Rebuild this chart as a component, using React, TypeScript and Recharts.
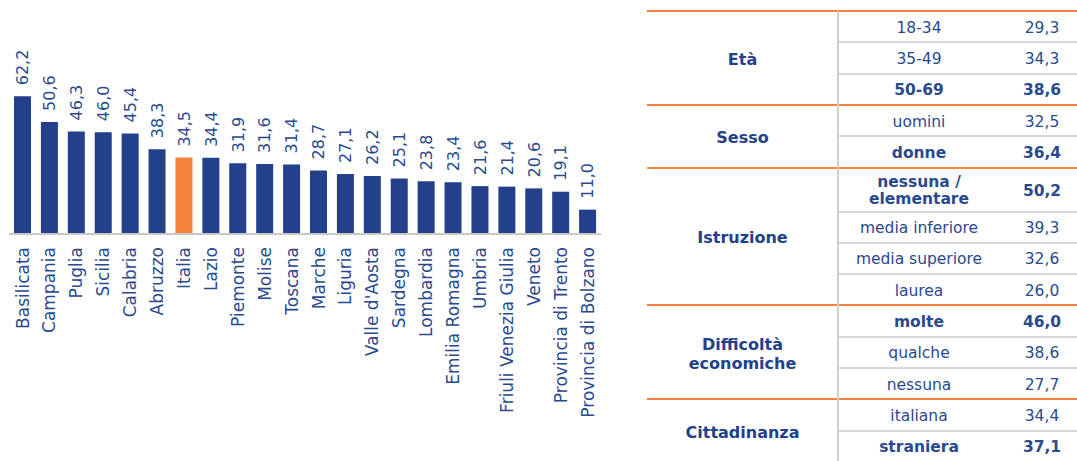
import React from 'react';
import { BarChart, Bar, XAxis, YAxis, Cell, LabelList } from 'recharts';

// regioni (ordinate per valore)
const regions = [
  'Basilicata', 'Campania', 'Puglia', 'Sicilia', 'Calabria', 'Abruzzo', 'Italia',
  'Lazio', 'Piemonte', 'Molise', 'Toscana', 'Marche', 'Liguria', "Valle d'Aosta",
  'Sardegna', 'Lombardia', 'Emilia Romagna', 'Umbria', 'Friuli Venezia Giulia',
  'Veneto', 'Provincia di Trento', 'Provincia di Bolzano',
];
const regionValues = [
  62.2, 50.6, 46.3, 46.0, 45.4, 38.3, 34.5, 34.4, 31.9, 31.6, 31.4, 28.7, 27.1,
  26.2, 25.1, 23.8, 23.4, 21.6, 21.4, 20.6, 19.1, 11.0,
];
const highlight = 'Italia';

// tabella a destra
const groupLabels = ['Età', 'Sesso', 'Istruzione', 'Difficoltà\neconomiche', 'Cittadinanza'];
const etaLabels = ['18-34', '35-49', '50-69'];
const etaValues = [29.3, 34.3, 38.6];
const sessoLabels = ['uomini', 'donne'];
const sessoValues = [32.5, 36.4];
const istruzioneLabels = ['nessuna /\nelementare', 'media inferiore', 'media superiore', 'laurea'];
const istruzioneValues = [50.2, 39.3, 32.6, 26.0];
const difficoltaLabels = ['molte', 'qualche', 'nessuna'];
const difficoltaValues = [46.0, 38.6, 27.7];
const cittadinanzaLabels = ['italiana', 'straniera'];
const cittadinanzaValues = [34.4, 37.1];

const BLUE = '#22418a';
const TEXT = '#2a4a8e';
const ORANGE = '#f5843a';
const FONT = '"DejaVu Sans", Verdana, sans-serif';
const fmt = (v: number) => v.toFixed(1).replace('.', ',');

const data = regions.map((name, i) => ({ name, value: regionValues[i] }));

const CatTick = (props: any) => {
  const { x, y, payload } = props;
  const ty = y + 13;
  return (
    <text
      x={x}
      y={ty}
      dy="0.36em"
      transform={`rotate(-90, ${x}, ${ty})`}
      textAnchor="end"
      fill={TEXT}
      fontSize={17}
      fontFamily={FONT}
    >
      {payload.value}
    </text>
  );
};

const ValueLabel = (props: any) => {
  const { x, y, width, value } = props;
  const cx = x + width / 2;
  const ty = y - 11;
  return (
    <text
      x={cx}
      y={ty}
      dy="0.36em"
      transform={`rotate(-90, ${cx}, ${ty})`}
      textAnchor="start"
      fill={TEXT}
      fontSize={16}
      fontFamily={FONT}
    >
      {fmt(value)}
    </text>
  );
};

const groups = [
  { labels: etaLabels, values: etaValues },
  { labels: sessoLabels, values: sessoValues },
  { labels: istruzioneLabels, values: istruzioneValues },
  { labels: difficoltaLabels, values: difficoltaValues },
  { labels: cittadinanzaLabels, values: cittadinanzaValues },
];

const TABLE_TOP = 11;
const ROW_H = 31.3;
const ROW_H2 = 44;
const T_LEFT = 647;
const T_MID = 838;
const T_VAL = 1000;
const T_RIGHT = 1077;

const SideTable = () => {
  const items: React.ReactNode[] = [];
  let top = TABLE_TOP;
  items.push(
    <div key="top" style={{ position: 'absolute', left: T_LEFT, width: T_RIGHT - T_LEFT, top: top - 1, height: 2, background: ORANGE }} />
  );
  groups.forEach((g, gi) => {
    const gTop = top;
    const max = Math.max(...g.values);
    g.labels.forEach((lab, ri) => {
      const h = lab.includes('\n') ? ROW_H2 : ROW_H;
      const bold = g.values[ri] === max;
      const common: React.CSSProperties = {
        position: 'absolute',
        top: top + 1.5,
        height: h,
        display: 'flex',
        alignItems: 'center',
        justifyContent: 'center',
        textAlign: 'center',
        whiteSpace: 'pre-line',
        fontSize: 15.5,
        lineHeight: '17px',
        fontWeight: bold ? 'bold' : 'normal',
        color: TEXT,
      };
      items.push(
        <div key={`l${gi}-${ri}`} style={{ ...common, left: T_MID, width: T_VAL - T_MID }}>{lab}</div>
      );
      items.push(
        <div key={`v${gi}-${ri}`} style={{ ...common, left: T_VAL, width: 84 }}>{fmt(g.values[ri])}</div>
      );
      top += h;
      const last = ri === g.labels.length - 1;
      items.push(
        <div
          key={`s${gi}-${ri}`}
          style={{
            position: 'absolute',
            left: last ? T_LEFT : T_MID,
            width: last ? T_RIGHT - T_LEFT : T_RIGHT - T_MID,
            top: top - 1,
            height: 2,
            background: last ? ORANGE : '#d6d6d6',
          }}
        />
      );
    });
    items.push(
      <div
        key={`g${gi}`}
        style={{
          position: 'absolute',
          left: T_LEFT,
          width: T_MID - T_LEFT,
          top: gTop + 1.5,
          height: top - gTop,
          display: 'flex',
          alignItems: 'center',
          justifyContent: 'center',
          textAlign: 'center',
          whiteSpace: 'pre-line',
          fontSize: 16,
          lineHeight: '19px',
          fontWeight: 'bold',
          color: BLUE,
        }}
      >
        {groupLabels[gi]}
      </div>
    );
  });
  items.push(
    <div key="vline" style={{ position: 'absolute', left: T_MID - 1, width: 2, top: TABLE_TOP, height: 461 - TABLE_TOP, background: '#d0d0d0' }} />
  );
  return <>{items}</>;
};

export default function App() {
  return (
    <div
      style={{
        position: 'fixed',
        left: 0,
        top: 0,
        width: 1077,
        height: 461,
        overflow: 'hidden',
        background: '#fff',
        fontFamily: FONT,
      }}
    >
      <div style={{ position: 'absolute', left: 0, top: 0 }}>
        <BarChart
          width={610}
          height={461}
          data={data}
          margin={{ top: 79, right: 9, bottom: 0, left: 9 }}
        >
          <XAxis
            dataKey="name"
            interval={0}
            height={227}
            tickLine={false}
            tickSize={0}
            tickMargin={0}
            axisLine={{ stroke: '#c8c8c8', strokeWidth: 2 }}
            tick={<CatTick />}
          />
          <YAxis hide domain={[0, 70]} />
          <Bar dataKey="value" barSize={17} isAnimationActive={false}>
            {data.map((d) => (
              <Cell key={d.name} fill={d.name === highlight ? ORANGE : BLUE} />
            ))}
            <LabelList dataKey="value" content={<ValueLabel />} />
          </Bar>
        </BarChart>
      </div>
      <SideTable />
    </div>
  );
}
